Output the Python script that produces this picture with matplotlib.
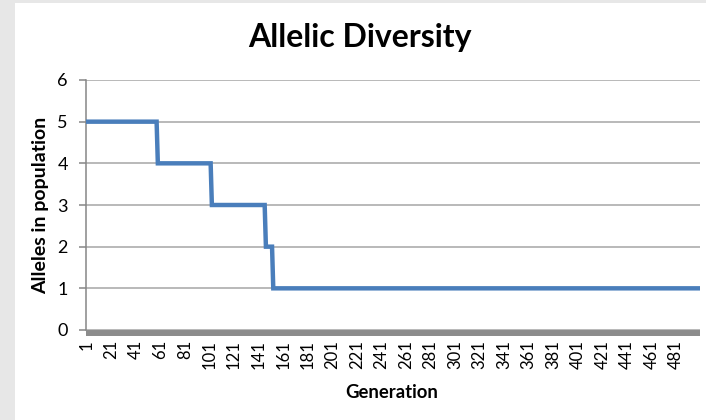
import numpy as np
import matplotlib.pyplot as plt
from matplotlib.patches import Rectangle

# allele count per generation, stored as runs: level and last generation at that level
levels = [5, 4, 3, 2, 1]
last_generation = [58, 102, 146, 152, 500]
tick_generations = list(range(1, 500, 20))
y_ticks = [0, 1, 2, 3, 4, 5, 6]

run_lengths = np.diff([0] + last_generation)
alleles = np.repeat(levels, run_lengths)
generations = np.arange(1, len(alleles) + 1)

plt.rcParams['font.family'] = ['Lato', 'DejaVu Sans']

fig = plt.figure(figsize=(7.06, 4.2), dpi=100)
fig.patch.set_facecolor('#e7e7e7')
# white chart panel over the textured page
fig.add_artist(Rectangle((15 / 706, 0), 1, 1 - 3 / 420, transform=fig.transFigure,
                         facecolor='white', edgecolor='none', zorder=0))

ax = fig.add_axes([86 / 706, 1 - 330 / 420, (700 - 86) / 706, 250 / 420])
ax.set_facecolor('white')

ax.plot(generations, alleles, color='#4a7ebb', linewidth=3.2, solid_joinstyle='miter', zorder=3)

ax.set_xlim(0.5, len(alleles) + 0.5)
ax.set_ylim(0, 6)
ax.yaxis.grid(True, color='#a6a6a6', linewidth=1.1)
ax.set_axisbelow(True)

for side in ['top', 'right']:
    ax.spines[side].set_visible(False)
ax.spines['left'].set_color('#868686')
ax.spines['left'].set_linewidth(1.1)
ax.spines['bottom'].set_color('#8c8c8c')
ax.spines['bottom'].set_linewidth(4.3)
ax.spines['bottom'].set_position(('outward', 2.2))
ax.spines['bottom'].set_capstyle('butt')

# ticks set after the spine move, which resets them
ax.set_yticks(y_ticks)
ax.set_xticks(tick_generations)
ax.set_xticklabels([str(g) for g in tick_generations])
ax.tick_params(axis='y', length=5, width=1.1, color='#868686', labelsize=13, pad=8)
ax.tick_params(axis='x', length=0, labelsize=12, pad=5, labelrotation=90)

fig.text(360 / 706, 1 - 37 / 420, 'Allelic Diversity', fontsize=23, fontweight='bold',
         ha='center', va='center')
ax.set_ylabel('Alleles in population', fontsize=14, fontweight='bold', labelpad=6)
fig.text(392 / 706, 1 - 392 / 420, 'Generation', fontsize=13.3, fontweight='bold',
         ha='center', va='center')

fig.savefig('out.png', dpi=100)
